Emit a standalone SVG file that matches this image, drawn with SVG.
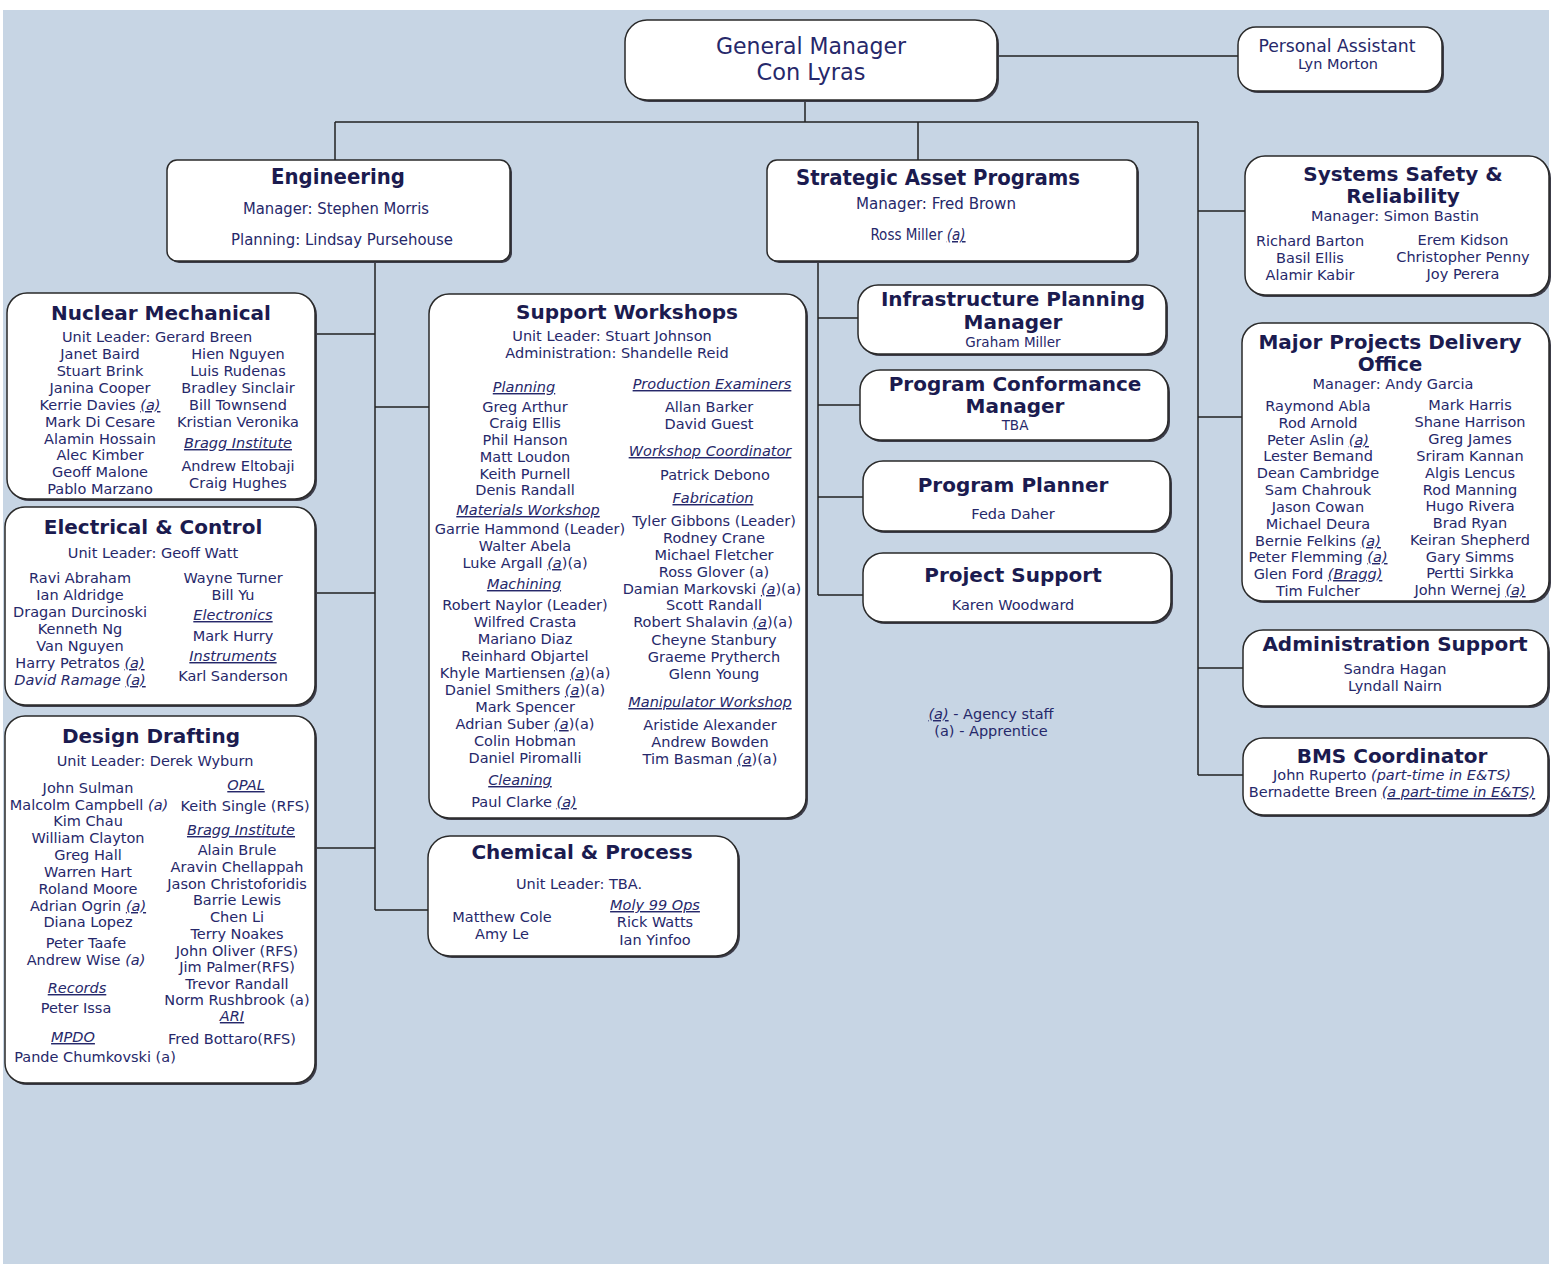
<svg xmlns="http://www.w3.org/2000/svg" width="1552" height="1264" viewBox="0 0 1552 1264">
<style>
text{font-family:"DejaVu Sans",sans-serif;fill:#26286a;text-anchor:middle}
.t{font-size:20px;font-weight:bold;fill:#1b1b4f}
.b{font-size:14.5px}
.s{font-size:13.5px}
.n{font-family:"Liberation Sans Narrow","DejaVu Sans Condensed",sans-serif}
.u{font-style:italic;text-decoration:underline}
.it{font-style:italic}
.box{fill:#fff;stroke:#2a2a2a;stroke-width:1.5}
.sh{fill:#3c3c48}
.c{fill:none;stroke:#222;stroke-width:1.5}
</style>
<rect x="0" y="0" width="1552" height="1264" fill="#fff"/>
<rect x="3" y="10" width="1546" height="1254" fill="#c7d5e4"/>

<g id="connectors">
<path class="c" d="M997,56H1238 M805,100V122 M335,122H1198 M335,122V160 M918,122V160 M1198,122V775 M1198,211H1245 M1198,417H1242 M1198,668H1243 M1198,775H1243 M375,261V910 M315,334H375 M375,407H429 M315,593H375 M315,848H375 M375,910H428 M818,261V595 M818,318H858 M818,405H860 M818,497H863 M818,595H863"/>
</g>

<g id="general-manager">
<rect class="sh" x="627" y="22" width="372" height="80" rx="22"/>
<rect class="box" x="625" y="20" width="372" height="80" rx="22"/>
<text class="n" x="811" y="54" font-size="23" textLength="190" lengthAdjust="spacingAndGlyphs">General Manager</text>
<text class="n" x="811" y="80" font-size="23" textLength="109" lengthAdjust="spacingAndGlyphs">Con Lyras</text>
</g>

<g id="personal-assistant">
<rect class="sh" x="1240" y="29" width="204" height="64" rx="18"/>
<rect class="box" x="1238" y="27" width="204" height="64" rx="18"/>
<text class="n" x="1337" y="52" font-size="17" textLength="157" lengthAdjust="spacingAndGlyphs">Personal Assistant</text>
<text class="n" x="1338" y="69" font-size="14" textLength="80" lengthAdjust="spacingAndGlyphs">Lyn Morton</text>
</g>

<g id="engineering">
<rect class="sh" x="169" y="162" width="343" height="101" rx="10"/>
<rect class="box" x="167" y="160" width="343" height="101" rx="10"/>
<text class="n" x="338" y="184" font-size="22" font-weight="bold" textLength="134" lengthAdjust="spacingAndGlyphs" style="fill:#1b1b4f">Engineering</text>
<text class="n" x="336" y="214" font-size="15" textLength="186" lengthAdjust="spacingAndGlyphs">Manager: Stephen Morris</text>
<text class="n" x="342" y="245" font-size="15" textLength="222" lengthAdjust="spacingAndGlyphs">Planning: Lindsay Pursehouse</text>
</g>

<g id="strategic-asset-programs">
<rect class="sh" x="769" y="162" width="370" height="101" rx="10"/>
<rect class="box" x="767" y="160" width="370" height="101" rx="10"/>
<text class="n" x="938" y="185" font-size="22" font-weight="bold" textLength="284" lengthAdjust="spacingAndGlyphs" style="fill:#1b1b4f">Strategic Asset Programs</text>
<text class="n" x="936" y="209" font-size="15" textLength="160" lengthAdjust="spacingAndGlyphs">Manager: Fred Brown</text>
<text class="n" x="918" y="240" font-size="15">Ross Miller <tspan class="u">(a)</tspan></text>
</g>

<g id="nuclear-mechanical">
<rect class="sh" x="9" y="295" width="308" height="206" rx="20"/>
<rect class="box" x="7" y="293" width="308" height="206" rx="20"/>
<text class="t" x="161" y="320">Nuclear Mechanical</text>
<text class="b" x="157" y="342">Unit Leader: Gerard Breen</text>
<text class="b"><tspan x="100" y="359">Janet Baird</tspan><tspan x="100" y="376">Stuart Brink</tspan><tspan x="100" y="393">Janina Cooper</tspan><tspan x="100" y="410">Kerrie Davies <tspan class="u">(a)</tspan></tspan><tspan x="100" y="427">Mark Di Cesare</tspan><tspan x="100" y="444">Alamin Hossain</tspan><tspan x="100" y="460">Alec Kimber</tspan><tspan x="100" y="477">Geoff Malone</tspan><tspan x="100" y="494">Pablo Marzano</tspan></text>
<text class="b"><tspan x="238" y="359">Hien Nguyen</tspan><tspan x="238" y="376">Luis Rudenas</tspan><tspan x="238" y="393">Bradley Sinclair</tspan><tspan x="238" y="410">Bill Townsend</tspan><tspan x="238" y="427">Kristian Veronika</tspan><tspan x="238" y="448" class="u">Bragg Institute</tspan><tspan x="238" y="471">Andrew Eltobaji</tspan><tspan x="238" y="488">Craig Hughes</tspan></text>
</g>

<g id="electrical-control">
<rect class="sh" x="7" y="509" width="310" height="198" rx="20"/>
<rect class="box" x="5" y="507" width="310" height="198" rx="20"/>
<text class="t" x="153" y="534">Electrical &amp; Control</text>
<text class="b" x="153" y="558">Unit Leader: Geoff Watt</text>
<text class="b"><tspan x="80" y="583">Ravi Abraham</tspan><tspan x="80" y="600">Ian Aldridge</tspan><tspan x="80" y="617">Dragan Durcinoski</tspan><tspan x="80" y="634">Kenneth Ng</tspan><tspan x="80" y="651">Van Nguyen</tspan><tspan x="80" y="668">Harry Petratos <tspan class="u">(a)</tspan></tspan><tspan x="80" y="685"><tspan class="it">David Ramage </tspan><tspan class="u">(a)</tspan></tspan></text>
<text class="b"><tspan x="233" y="583">Wayne Turner</tspan><tspan x="233" y="600">Bill Yu</tspan><tspan x="233" y="620" class="u">Electronics</tspan><tspan x="233" y="641">Mark Hurry</tspan><tspan x="233" y="661" class="u">Instruments</tspan><tspan x="233" y="681">Karl Sanderson</tspan></text>
</g>

<g id="design-drafting">
<rect class="sh" x="7" y="718" width="310" height="367" rx="20"/>
<rect class="box" x="5" y="716" width="310" height="367" rx="20"/>
<text class="t" x="151" y="743">Design Drafting</text>
<text class="b" x="155" y="766">Unit Leader: Derek Wyburn</text>
<text class="b"><tspan x="88" y="793">John Sulman</tspan><tspan x="89" y="810">Malcolm Campbell <tspan class="it">(a)</tspan></tspan><tspan x="88" y="826">Kim Chau</tspan><tspan x="88" y="843">William Clayton</tspan><tspan x="88" y="860">Greg Hall</tspan><tspan x="88" y="877">Warren Hart</tspan><tspan x="88" y="894">Roland Moore</tspan><tspan x="88" y="911">Adrian Ogrin <tspan class="u">(a)</tspan></tspan><tspan x="88" y="927">Diana Lopez</tspan><tspan x="86" y="948">Peter Taafe</tspan><tspan x="86" y="965">Andrew Wise <tspan class="it">(a)</tspan></tspan><tspan x="77" y="993" class="u">Records</tspan><tspan x="76" y="1013">Peter Issa</tspan><tspan x="73" y="1042" class="u">MPDO</tspan><tspan x="95" y="1062">Pande Chumkovski (a)</tspan></text>
<text class="b"><tspan x="246" y="790" class="u">OPAL</tspan><tspan x="245" y="811">Keith Single (RFS)</tspan><tspan x="241" y="835" class="u">Bragg Institute</tspan><tspan x="237" y="855">Alain Brule</tspan><tspan x="237" y="872">Aravin Chellappah</tspan><tspan x="237" y="889">Jason Christoforidis</tspan><tspan x="237" y="905">Barrie Lewis</tspan><tspan x="237" y="922">Chen Li</tspan><tspan x="237" y="939">Terry Noakes</tspan><tspan x="237" y="956">John Oliver (RFS)</tspan><tspan x="237" y="972">Jim Palmer(RFS)</tspan><tspan x="237" y="989">Trevor Randall</tspan><tspan x="237" y="1005">Norm Rushbrook (a)</tspan><tspan x="232" y="1021" class="u">ARI</tspan><tspan x="232" y="1044">Fred Bottaro(RFS)</tspan></text>
</g>

<g id="support-workshops">
<rect class="sh" x="431" y="296" width="377" height="524" rx="20"/>
<rect class="box" x="429" y="294" width="377" height="524" rx="20"/>
<text class="t" x="627" y="319">Support Workshops</text>
<text class="b" x="612" y="341">Unit Leader: Stuart Johnson</text>
<text class="b" x="617" y="358">Administration: Shandelle Reid</text>
<text class="b"><tspan x="524" y="392" class="u">Planning</tspan><tspan x="525" y="412">Greg Arthur</tspan><tspan x="525" y="428">Craig Ellis</tspan><tspan x="525" y="445">Phil Hanson</tspan><tspan x="525" y="462">Matt Loudon</tspan><tspan x="525" y="479">Keith Purnell</tspan><tspan x="525" y="495">Denis Randall</tspan><tspan x="528" y="515" class="u">Materials Workshop</tspan><tspan x="530" y="534">Garrie Hammond (Leader)</tspan><tspan x="525" y="551">Walter Abela</tspan><tspan x="525" y="568">Luke Argall <tspan class="u">(a</tspan>)(a)</tspan><tspan x="524" y="589" class="u">Machining</tspan><tspan x="525" y="610">Robert Naylor (Leader)</tspan><tspan x="525" y="627">Wilfred Crasta</tspan><tspan x="525" y="644">Mariano Diaz</tspan><tspan x="525" y="661">Reinhard Objartel</tspan><tspan x="525" y="678">Khyle Martiensen <tspan class="u">(a</tspan>)(a)</tspan><tspan x="525" y="695">Daniel Smithers <tspan class="u">(a</tspan>)(a)</tspan><tspan x="525" y="712">Mark Spencer</tspan><tspan x="525" y="729">Adrian Suber <tspan class="u">(a</tspan>)(a)</tspan><tspan x="525" y="746">Colin Hobman</tspan><tspan x="525" y="763">Daniel Piromalli</tspan><tspan x="520" y="785" class="u">Cleaning</tspan><tspan x="524" y="807">Paul Clarke <tspan class="u">(a)</tspan></tspan></text>
<text class="b"><tspan x="712" y="389" class="u">Production Examiners</tspan><tspan x="709" y="412">Allan Barker</tspan><tspan x="709" y="429">David Guest</tspan><tspan x="710" y="456" class="u">Workshop Coordinator</tspan><tspan x="715" y="480">Patrick Debono</tspan><tspan x="713" y="503" class="u">Fabrication</tspan><tspan x="714" y="526">Tyler Gibbons (Leader)</tspan><tspan x="714" y="543">Rodney Crane</tspan><tspan x="714" y="560">Michael Fletcher</tspan><tspan x="714" y="577">Ross Glover (a)</tspan><tspan x="712" y="594">Damian Markovski <tspan class="u">(a</tspan>)(a)</tspan><tspan x="714" y="610">Scott Randall</tspan><tspan x="713" y="627">Robert Shalavin <tspan class="u">(a</tspan>)(a)</tspan><tspan x="714" y="645">Cheyne Stanbury</tspan><tspan x="714" y="662">Graeme Prytherch</tspan><tspan x="714" y="679">Glenn Young</tspan><tspan x="710" y="707" class="u">Manipulator Workshop</tspan><tspan x="710" y="730">Aristide Alexander</tspan><tspan x="710" y="747">Andrew Bowden</tspan><tspan x="710" y="764">Tim Basman <tspan class="u">(a</tspan>)(a)</tspan></text>
</g>

<g id="chemical-process">
<rect class="sh" x="430" y="838" width="310" height="120" rx="22"/>
<rect class="box" x="428" y="836" width="310" height="120" rx="22"/>
<text class="t" x="582" y="859">Chemical &amp; Process</text>
<text class="b" x="579" y="889">Unit Leader: TBA.</text>
<text class="b"><tspan x="502" y="922">Matthew Cole</tspan><tspan x="502" y="939">Amy Le</tspan></text>
<text class="b"><tspan x="655" y="910" class="u">Moly 99 Ops</tspan><tspan x="655" y="927">Rick Watts</tspan><tspan x="655" y="945">Ian Yinfoo</tspan></text>
</g>

<g id="infrastructure-planning-manager">
<rect class="sh" x="860" y="287" width="308" height="69" rx="20"/>
<rect class="box" x="858" y="285" width="308" height="69" rx="20"/>
<text class="t"><tspan x="1013" y="306">Infrastructure Planning</tspan><tspan x="1013" y="329">Manager</tspan></text>
<text class="s" x="1013" y="347">Graham Miller</text>
</g>

<g id="program-conformance-manager">
<rect class="sh" x="862" y="372" width="308" height="70" rx="20"/>
<rect class="box" x="860" y="370" width="308" height="70" rx="20"/>
<text class="t"><tspan x="1015" y="391">Program Conformance</tspan><tspan x="1015" y="413">Manager</tspan></text>
<text class="s" x="1015" y="430">TBA</text>
</g>

<g id="program-planner">
<rect class="sh" x="865" y="463" width="307" height="70" rx="20"/>
<rect class="box" x="863" y="461" width="307" height="70" rx="20"/>
<text class="t" x="1013" y="492">Program Planner</text>
<text class="b" x="1013" y="519">Feda Daher</text>
</g>

<g id="project-support">
<rect class="sh" x="865" y="555" width="308" height="69" rx="20"/>
<rect class="box" x="863" y="553" width="308" height="69" rx="20"/>
<text class="t" x="1013" y="582">Project Support</text>
<text class="b" x="1013" y="610">Karen Woodward</text>
</g>

<g id="systems-safety-reliability">
<rect class="sh" x="1247" y="158" width="304" height="139" rx="20"/>
<rect class="box" x="1245" y="156" width="304" height="139" rx="20"/>
<text class="t"><tspan x="1403" y="181">Systems Safety &amp;</tspan><tspan x="1403" y="203">Reliability</tspan></text>
<text class="b" x="1395" y="221">Manager: Simon Bastin</text>
<text class="b"><tspan x="1310" y="246">Richard Barton</tspan><tspan x="1310" y="263">Basil Ellis</tspan><tspan x="1310" y="280">Alamir Kabir</tspan></text>
<text class="b"><tspan x="1463" y="245">Erem Kidson</tspan><tspan x="1463" y="262">Christopher Penny</tspan><tspan x="1463" y="279">Joy Perera</tspan></text>
</g>

<g id="major-projects-delivery-office">
<rect class="sh" x="1244" y="325" width="307" height="278" rx="20"/>
<rect class="box" x="1242" y="323" width="307" height="278" rx="20"/>
<text class="t"><tspan x="1390" y="349">Major Projects Delivery</tspan><tspan x="1390" y="371">Office</tspan></text>
<text class="b" x="1393" y="389">Manager: Andy Garcia</text>
<text class="b"><tspan x="1318" y="411">Raymond Abla</tspan><tspan x="1318" y="428">Rod Arnold</tspan><tspan x="1318" y="445">Peter Aslin <tspan class="u">(a)</tspan></tspan><tspan x="1318" y="461">Lester Bemand</tspan><tspan x="1318" y="478">Dean Cambridge</tspan><tspan x="1318" y="495">Sam Chahrouk</tspan><tspan x="1318" y="512">Jason Cowan</tspan><tspan x="1318" y="529">Michael Deura</tspan><tspan x="1318" y="546">Bernie Felkins <tspan class="u">(a)</tspan></tspan><tspan x="1318" y="562">Peter Flemming <tspan class="u">(a)</tspan></tspan><tspan x="1318" y="579">Glen Ford <tspan class="u">(Bragg)</tspan></tspan><tspan x="1318" y="596">Tim Fulcher</tspan></text>
<text class="b"><tspan x="1470" y="410">Mark Harris</tspan><tspan x="1470" y="427">Shane Harrison</tspan><tspan x="1470" y="444">Greg James</tspan><tspan x="1470" y="461">Sriram Kannan</tspan><tspan x="1470" y="478">Algis Lencus</tspan><tspan x="1470" y="495">Rod Manning</tspan><tspan x="1470" y="511">Hugo Rivera</tspan><tspan x="1470" y="528">Brad Ryan</tspan><tspan x="1470" y="545">Keiran Shepherd</tspan><tspan x="1470" y="562">Gary Simms</tspan><tspan x="1470" y="578">Pertti Sirkka</tspan><tspan x="1470" y="595">John Wernej <tspan class="u">(a)</tspan></tspan></text>
</g>

<g id="administration-support">
<rect class="sh" x="1245" y="632" width="305" height="76" rx="20"/>
<rect class="box" x="1243" y="630" width="305" height="76" rx="20"/>
<text class="t" x="1395" y="651">Administration Support</text>
<text class="b"><tspan x="1395" y="674">Sandra Hagan</tspan><tspan x="1395" y="691">Lyndall Nairn</tspan></text>
</g>

<g id="bms-coordinator">
<rect class="sh" x="1245" y="740" width="305" height="77" rx="20"/>
<rect class="box" x="1243" y="738" width="305" height="77" rx="20"/>
<text class="t" x="1392" y="763">BMS Coordinator</text>
<text class="b"><tspan x="1392" y="780">John Ruperto <tspan class="it">(part-time in E&amp;TS)</tspan></tspan><tspan x="1392" y="797">Bernadette Breen <tspan class="u">(a part-time in E&amp;TS)</tspan></tspan></text>
</g>

<g id="legend">
<text class="b"><tspan x="991" y="719"><tspan class="u">(a)</tspan> - Agency staff</tspan><tspan x="991" y="736">(a) - Apprentice</tspan></text>
</g>
</svg>
